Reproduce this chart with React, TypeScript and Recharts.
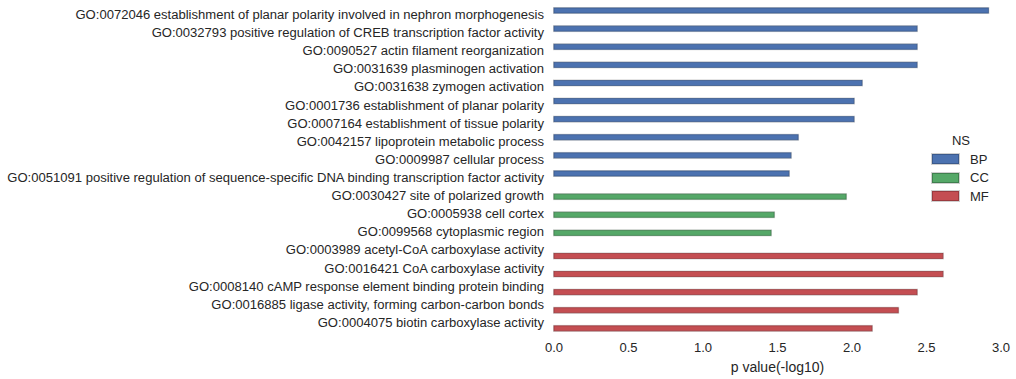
import React from 'react';
import { BarChart, Bar, XAxis, YAxis } from 'recharts';

const categories: string[] = [
  'GO:0072046 establishment of planar polarity involved in nephron morphogenesis',
  'GO:0032793 positive regulation of CREB transcription factor activity',
  'GO:0090527 actin filament reorganization',
  'GO:0031639 plasminogen activation',
  'GO:0031638 zymogen activation',
  'GO:0001736 establishment of planar polarity',
  'GO:0007164 establishment of tissue polarity',
  'GO:0042157 lipoprotein metabolic process',
  'GO:0009987 cellular process',
  'GO:0051091 positive regulation of sequence-specific DNA binding transcription factor activity',
  'GO:0030427 site of polarized growth',
  'GO:0005938 cell cortex',
  'GO:0099568 cytoplasmic region',
  'GO:0003989 acetyl-CoA carboxylase activity',
  'GO:0016421 CoA carboxylase activity',
  'GO:0008140 cAMP response element binding protein binding',
  'GO:0016885 ligase activity, forming carbon-carbon bonds',
  'GO:0004075 biotin carboxylase activity',
];

const pValues: number[] = [
  2.915, 2.436, 2.436, 2.436, 2.067, 2.013, 2.013, 1.638, 1.59, 1.577,
  1.96, 1.477, 1.456,
  2.61, 2.61, 2.436, 2.31, 2.134,
];

const namespaces: string[] = [
  'BP', 'BP', 'BP', 'BP', 'BP', 'BP', 'BP', 'BP', 'BP', 'BP',
  'CC', 'CC', 'CC',
  'MF', 'MF', 'MF', 'MF', 'MF',
];

const nsKeys: string[] = ['BP', 'CC', 'MF'];
const xTicks: number[] = [0, 0.5, 1, 1.5, 2, 2.5, 3];

const fills: Record<string, string> = { BP: '#4C72B0', CC: '#55A868', MF: '#C44E52' };
const edges: Record<string, string> = { BP: '#3b5a8c', CC: '#3f7f4e', MF: '#9a3a3e' };

const data = categories.map((name, i) => {
  const row: Record<string, any> = { name };
  nsKeys.forEach((k) => {
    row[k] = namespaces[i] === k ? pValues[i] : null;
  });
  return row;
});

const FONT = '"Liberation Sans", Arial, sans-serif';
const TEXT = '#262626';

const makeShape = (k: string) => (props: any) => {
  const { x, y, width, height, value } = props;
  if (value == null || !width || width <= 0) return <g />;
  return (
    <g>
      <rect x={x - 0.5} y={y - 0.5} width={width + 1} height={height + 1} fill="none" stroke="#cfcfcf" strokeWidth={1} />
      <rect x={x} y={y} width={width} height={height} fill={fills[k]} stroke={edges[k]} strokeWidth={0.8} />
    </g>
  );
};

const YTick = (props: any) => {
  const { x, y, payload } = props;
  return (
    <text x={x} y={y} dy="0.3em" textAnchor="end" fill={TEXT} fontSize={13.05} fontFamily={FONT}>
      {payload.value}
    </text>
  );
};

const LegendBox = () => (
  <div style={{ position: 'absolute', left: 932, top: 132, width: 80, fontFamily: FONT, color: TEXT, fontSize: 13.05 }}>
    <div style={{ textAlign: 'center', width: 58, height: 18, lineHeight: '18px' }}>NS</div>
    {nsKeys.map((k) => (
      <div key={k} style={{ display: 'flex', alignItems: 'center', height: 18.5 }}>
        <div
          style={{
            width: 25,
            height: 8,
            background: fills[k],
            border: `1px solid ${edges[k]}`,
            boxShadow: '0 0 0 1px #d0d0d0',
            marginRight: 11,
          }}
        />
        <span>{k}</span>
      </div>
    ))}
  </div>
);

export default function App() {
  return (
    <div style={{ position: 'absolute', left: 0, top: 0, width: 1016, height: 379, background: '#fff' }}>
      <BarChart
        width={1016}
        height={379}
        data={data}
        layout="vertical"
        margin={{ top: 6, right: 15, left: 0, bottom: 0 }}
        barGap={0}
        barSize={5}
      >
        <XAxis
          type="number"
          domain={[0, 3]}
          ticks={xTicks}
          tickFormatter={(v: number) => v.toFixed(1)}
          axisLine={false}
          tickLine={false}
          tickSize={6}
          tickMargin={5}
          height={47}
          tick={{ fill: TEXT, fontSize: 13.05, fontFamily: FONT }}
          label={{ value: 'p value(-log10)', position: 'insideBottom', offset: 7, fill: TEXT, fontSize: 14, fontFamily: FONT }}
        />
        <YAxis
          type="category"
          dataKey="name"
          width={554}
          axisLine={false}
          tickLine={false}
          tickSize={6}
          tickMargin={4}
          interval={0}
          tick={<YTick />}
        />
        {nsKeys.map((k) => (
          <Bar key={k} dataKey={k} fill={fills[k]} isAnimationActive={false} shape={makeShape(k)} />
        ))}
      </BarChart>
      <LegendBox />
    </div>
  );
}
